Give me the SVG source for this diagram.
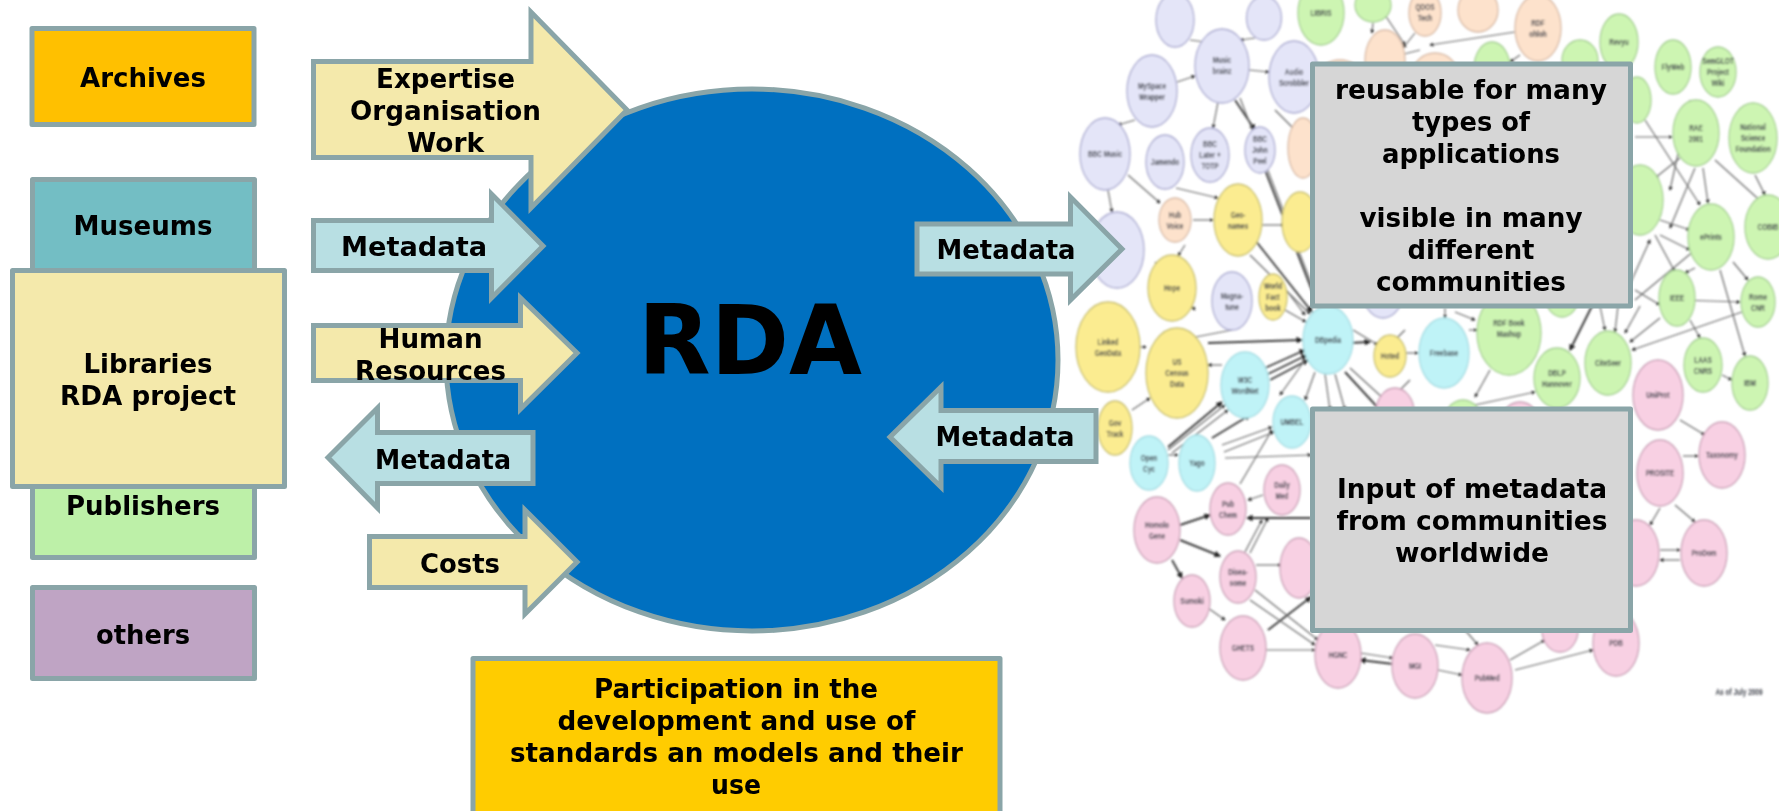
<svg xmlns="http://www.w3.org/2000/svg" width="1779" height="811" viewBox="0 0 1779 811">
<style>
.box,.arrow,#rda-circle{stroke:#8aa5a8;stroke-width:5;stroke-linejoin:miter}
.box{stroke-linejoin:round}
.t{font-family:"DejaVu Sans","Liberation Sans",sans-serif;font-weight:700;font-size:26px;fill:#000;text-anchor:middle}
.y{fill:#f4e9ab}.b{fill:#b8dfe3}.g{fill:#d6d6d6}
.graph ellipse{stroke-width:1.3}
.L ellipse{fill:#e4e5f8;stroke:#aaaad0}
.Y ellipse{fill:#fbec90;stroke:#c8bf72}
.C ellipse{fill:#bff3f7;stroke:#a5dce2}
.P ellipse{fill:#f8d0e3;stroke:#c9a0b6}
.G ellipse{fill:#cdf5b2;stroke:#a6cf94}
.O ellipse{fill:#fde2cc;stroke:#d8baa6}
.l{font-family:"Liberation Sans",Arial,sans-serif;font-size:9px;font-weight:700;fill:#3c3f48;text-anchor:middle;transform:scaleX(.72)}
#edges line{stroke:#6a6a6a;stroke-width:1.2;marker-end:url(#ah)}
#edges line.k{stroke:#3a3a3a;stroke-width:1.9}
</style>
<defs>
<marker id="ah" viewBox="0 0 6 6" refX="5" refY="3" markerWidth="3.5" markerHeight="3.5" orient="auto"><path d="M0 0L6 3L0 6z" fill="#222"/></marker>
<filter id="soft" filterUnits="userSpaceOnUse" x="1060" y="0" width="719" height="740"><feGaussianBlur stdDeviation="0.85"/></filter>
</defs>
<rect width="1779" height="811" fill="#fff"/>

<g class="graph" filter="url(#soft)">
<g id="edges">
<line x1="1177" y1="82" x2="1195" y2="76"/><line x1="1249" y1="70" x2="1269" y2="72"/><line x1="1190" y1="40" x2="1205" y2="42"/><line x1="1255" y1="38" x2="1240" y2="40"/>
<line class="k" x1="1235" y1="100" x2="1255" y2="130"/><line x1="1218" y1="102" x2="1213" y2="128"/><line x1="1240" y1="98" x2="1320" y2="306"/><line x1="1275" y1="110" x2="1305" y2="140"/>
<line x1="1135" y1="120" x2="1118" y2="125"/><line x1="1108" y1="190" x2="1112" y2="212"/><line x1="1128" y1="175" x2="1160" y2="203"/><line x1="1176" y1="188" x2="1218" y2="198"/><line x1="1193" y1="220" x2="1213" y2="220"/>
<line class="k" x1="1265" y1="170" x2="1318" y2="306"/><line x1="1250" y1="255" x2="1310" y2="314"/><line class="k" x1="1255" y1="240" x2="1312" y2="312"/><line x1="1262" y1="225" x2="1284" y2="225"/><line x1="1285" y1="310" x2="1306" y2="322"/><line x1="1155" y1="262" x2="1195" y2="310"/>
<line x1="1275" y1="275" x2="1305" y2="315"/><line x1="1185" y1="245" x2="1178" y2="256"/><line x1="1232" y1="330" x2="1180" y2="340"/>
<line x1="1140" y1="347" x2="1146" y2="347"/><line class="k" x1="1208" y1="343" x2="1302" y2="340"/><line x1="1132" y1="410" x2="1150" y2="398"/><line x1="1222" y1="365" x2="1208" y2="365"/>
<line class="k" x1="1265" y1="368" x2="1305" y2="350"/><line class="k" x1="1268" y1="374" x2="1307" y2="355"/><line class="k" x1="1270" y1="380" x2="1308" y2="360"/>
<line class="k" x1="1212" y1="438" x2="1250" y2="415"/><line x1="1168" y1="450" x2="1225" y2="405"/><line x1="1172" y1="453" x2="1228" y2="410"/><line class="k" x1="1168" y1="447" x2="1222" y2="402"/>
<line x1="1222" y1="445" x2="1272" y2="427"/><line x1="1224" y1="452" x2="1274" y2="432"/><line x1="1225" y1="458" x2="1311" y2="455"/><line x1="1168" y1="455" x2="1178" y2="455"/><line x1="1240" y1="484" x2="1272" y2="430"/>
<line x1="1263" y1="495" x2="1248" y2="500"/><line class="k" x1="1180" y1="525" x2="1210" y2="515"/><line class="k" x1="1311" y1="518" x2="1247" y2="518"/><line class="k" x1="1180" y1="540" x2="1220" y2="556"/><line class="k" x1="1172" y1="560" x2="1182" y2="578"/>
<line x1="1245" y1="552" x2="1262" y2="520"/><line x1="1250" y1="553" x2="1268" y2="518"/><line x1="1256" y1="565" x2="1281" y2="565"/><line x1="1208" y1="608" x2="1225" y2="620"/><line class="k" x1="1268" y1="630" x2="1311" y2="597"/>
<line x1="1266" y1="650" x2="1315" y2="650"/><line x1="1255" y1="590" x2="1318" y2="640"/><line x1="1250" y1="600" x2="1315" y2="645"/><line x1="1360" y1="653" x2="1393" y2="658"/><line class="k" x1="1393" y1="664" x2="1360" y2="660"/>
<line x1="1438" y1="670" x2="1462" y2="675"/><line x1="1515" y1="670" x2="1593" y2="650"/><line x1="1435" y1="645" x2="1470" y2="650"/><line x1="1510" y1="660" x2="1545" y2="640"/><line x1="1465" y1="630" x2="1478" y2="645"/>
<line class="k" x1="1303" y1="345" x2="1370" y2="342"/><line x1="1353" y1="330" x2="1378" y2="345"/><line x1="1406" y1="353" x2="1418" y2="353"/><line x1="1350" y1="368" x2="1385" y2="400"/><line class="k" x1="1345" y1="372" x2="1380" y2="410"/><line x1="1335" y1="374" x2="1345" y2="410"/><line x1="1325" y1="374" x2="1330" y2="410"/><line x1="1315" y1="372" x2="1305" y2="400"/><line x1="1305" y1="360" x2="1280" y2="395"/>
<line x1="1445" y1="308" x2="1445" y2="318"/><line x1="1455" y1="312" x2="1475" y2="320"/><line x1="1469" y1="330" x2="1477" y2="330"/><line x1="1490" y1="370" x2="1475" y2="397"/><line x1="1475" y1="405" x2="1535" y2="392"/><line x1="1405" y1="330" x2="1375" y2="360"/><line x1="1410" y1="380" x2="1385" y2="405"/>
<line class="k" x1="1592" y1="306" x2="1570" y2="350"/><line x1="1600" y1="306" x2="1605" y2="330"/><line x1="1618" y1="306" x2="1615" y2="332"/><line x1="1640" y1="306" x2="1625" y2="333"/><line x1="1660" y1="318" x2="1630" y2="342"/><line x1="1742" y1="312" x2="1632" y2="350"/>
<line x1="1680" y1="158" x2="1655" y2="178"/><line x1="1635" y1="137" x2="1672" y2="137"/><line x1="1695" y1="168" x2="1670" y2="228"/><line x1="1703" y1="168" x2="1708" y2="203"/><line x1="1715" y1="160" x2="1765" y2="205"/><line x1="1755" y1="175" x2="1765" y2="195"/><line x1="1645" y1="120" x2="1700" y2="205"/>
<line x1="1733" y1="262" x2="1748" y2="280"/><line x1="1695" y1="268" x2="1685" y2="273"/><line x1="1660" y1="235" x2="1690" y2="250"/><line x1="1660" y1="220" x2="1690" y2="230"/><line x1="1655" y1="235" x2="1675" y2="272"/><line x1="1690" y1="100" x2="1670" y2="190"/>
<line x1="1635" y1="300" x2="1695" y2="250"/><line x1="1620" y1="306" x2="1650" y2="240"/><line x1="1635" y1="290" x2="1660" y2="305"/><line x1="1680" y1="300" x2="1740" y2="302"/>
<line x1="1690" y1="320" x2="1700" y2="338"/><line x1="1720" y1="270" x2="1745" y2="356"/><line x1="1722" y1="375" x2="1732" y2="380"/><line x1="1680" y1="420" x2="1705" y2="435"/><line x1="1683" y1="456" x2="1698" y2="456"/><line x1="1675" y1="505" x2="1695" y2="522"/>
<line x1="1660" y1="508" x2="1650" y2="525"/><line x1="1660" y1="550" x2="1680" y2="550"/><line x1="1680" y1="560" x2="1660" y2="560"/><line x1="1665" y1="445" x2="1640" y2="470"/>
<line x1="1515" y1="32" x2="1430" y2="45"/><line x1="1415" y1="33" x2="1403" y2="48"/><line x1="1373" y1="23" x2="1372" y2="33"/><line x1="1385" y1="15" x2="1405" y2="45"/><line x1="1420" y1="50" x2="1400" y2="55"/><line x1="1520" y1="55" x2="1510" y2="62"/>
</g>
<g id="n1" class="L"><ellipse cx="1175" cy="20" rx="19" ry="27"/></g>
<g id="n2" class="L"><ellipse cx="1264" cy="18" rx="17.5" ry="22"/></g>
<g id="n3" class="L" transform="translate(1222,66)"><ellipse rx="27" ry="37"/><text class="l" y="-3">Music<tspan x="0" dy="11">brainz</tspan></text></g>
<g id="n4" class="L" transform="translate(1152,91)"><ellipse rx="25" ry="36"/><text class="l" y="-2">MySpace<tspan x="0" dy="11">Wrapper</tspan></text></g>
<g id="n5" class="L" transform="translate(1294,77)"><ellipse rx="25" ry="36"/><text class="l" y="-2">Audio<tspan x="0" dy="11">Scrobbler</tspan></text></g>
<g id="n6" class="L" transform="translate(1105,154)"><ellipse rx="25" ry="36"/><text class="l" y="3">BBC Music</text></g>
<g id="n7" class="L" transform="translate(1165,162)"><ellipse rx="19" ry="27"/><text class="l" y="3">Jamendo</text></g>
<g id="n8" class="L" transform="translate(1210,155)"><ellipse rx="19" ry="27"/><text class="l" y="-8">BBC<tspan x="0" dy="11">Later +</tspan><tspan x="0" dy="11">TOTP</tspan></text></g>
<g id="n9" class="L" transform="translate(1260,150)"><ellipse rx="15" ry="23"/><text class="l" y="-8">BBC<tspan x="0" dy="11">John</tspan><tspan x="0" dy="11">Peel</tspan></text></g>
<g id="n10" class="L"><ellipse cx="1117" cy="250" rx="27" ry="38"/></g>
<g id="n11" class="L" transform="translate(1232,301)"><ellipse rx="20" ry="29"/><text class="l" y="-2">Magna-<tspan x="0" dy="11">tune</tspan></text></g>
<g id="n12" class="L"><ellipse cx="1383" cy="285" rx="22" ry="33"/></g>
<g id="n13" class="O" transform="translate(1175,220)"><ellipse rx="16" ry="22"/><text class="l" y="-2">Hub<tspan x="0" dy="11">Voice</tspan></text></g>
<g id="n14" class="Y" transform="translate(1238,220)"><ellipse rx="24" ry="36"/><text class="l" y="-2">Geo-<tspan x="0" dy="11">names</tspan></text></g>
<g id="n15" class="Y" transform="translate(1172,288)"><ellipse rx="24" ry="33"/><text class="l" y="3">Hope</text></g>
<g id="n16" class="Y" transform="translate(1273,297)"><ellipse rx="14" ry="23"/><text class="l" y="-8">World<tspan x="0" dy="11">Fact</tspan><tspan x="0" dy="11">book</tspan></text></g>
<g id="n17" class="Y" transform="translate(1108,347)"><ellipse rx="32" ry="45"/><text class="l" y="-2">Linked<tspan x="0" dy="11">GeoData</tspan></text></g>
<g id="n18" class="Y" transform="translate(1177,373)"><ellipse rx="31" ry="45"/><text class="l" y="-8">US<tspan x="0" dy="11">Census</tspan><tspan x="0" dy="11">Data</tspan></text></g>
<g id="n19" class="Y" transform="translate(1115,428)"><ellipse rx="17" ry="27"/><text class="l" y="-2">Gov<tspan x="0" dy="11">Track</tspan></text></g>
<g id="n20" class="Y"><ellipse cx="1300" cy="222" rx="18" ry="30"/></g>
<g id="n21" class="Y" transform="translate(1390,356)"><ellipse rx="16" ry="21"/><text class="l" y="3">Hoted</text></g>
<g id="n22" class="C" transform="translate(1328,340)"><ellipse rx="25" ry="34"/><text class="l" y="3">DBpedia</text></g>
<g id="n23" class="C" transform="translate(1444,353)"><ellipse rx="25" ry="35"/><text class="l" y="3">Freebase</text></g>
<g id="n24" class="C" transform="translate(1245,385)"><ellipse rx="24" ry="33"/><text class="l" y="-2">W3C<tspan x="0" dy="11">WordNet</tspan></text></g>
<g id="n25" class="C" transform="translate(1292,422)"><ellipse rx="19" ry="26"/><text class="l" y="3">UMBEL</text></g>
<g id="n26" class="C" transform="translate(1149,463)"><ellipse rx="19" ry="27"/><text class="l" y="-2">Open<tspan x="0" dy="11">Cyc</tspan></text></g>
<g id="n27" class="C" transform="translate(1197,463)"><ellipse rx="18" ry="28"/><text class="l" y="3">Yago</text></g>
<g id="n28" class="P" transform="translate(1282,490)"><ellipse rx="18" ry="25"/><text class="l" y="-2">Daily<tspan x="0" dy="11">Med</tspan></text></g>
<g id="n29" class="P" transform="translate(1228,509)"><ellipse rx="18" ry="26"/><text class="l" y="-2">Pub<tspan x="0" dy="11">Chem</tspan></text></g>
<g id="n30" class="P" transform="translate(1157,530)"><ellipse rx="23" ry="33"/><text class="l" y="-2">Homolo<tspan x="0" dy="11">Gene</tspan></text></g>
<g id="n31" class="P" transform="translate(1238,577)"><ellipse rx="18" ry="26"/><text class="l" y="-2">Disea-<tspan x="0" dy="11">some</tspan></text></g>
<g id="n32" class="P"><ellipse cx="1299" cy="568" rx="19" ry="30"/></g>
<g id="n33" class="P" transform="translate(1192,601)"><ellipse rx="18" ry="26"/><text class="l" y="3">Sumoki</text></g>
<g id="n34" class="P" transform="translate(1243,648)"><ellipse rx="23" ry="32"/><text class="l" y="3">GHETS</text></g>
<g id="n35" class="P" transform="translate(1338,655)"><ellipse rx="23" ry="33"/><text class="l" y="3">HGNC</text></g>
<g id="n36" class="P" transform="translate(1415,666)"><ellipse rx="23" ry="32"/><text class="l" y="3">MGI</text></g>
<g id="n37" class="P" transform="translate(1487,678)"><ellipse rx="25" ry="35"/><text class="l" y="3">PubMed</text></g>
<g id="n38" class="P" transform="translate(1616,643)"><ellipse rx="23" ry="33"/><text class="l" y="3">PDB</text></g>
<g id="n39" class="P"><ellipse cx="1560" cy="630" rx="18" ry="22"/></g>
<g id="n40" class="P" transform="translate(1704,553)"><ellipse rx="23" ry="33"/><text class="l" y="3">ProDom</text></g>
<g id="n41" class="P"><ellipse cx="1636" cy="553" rx="23" ry="33"/></g>
<g id="n42" class="P" transform="translate(1660,473)"><ellipse rx="23" ry="33"/><text class="l" y="3">PROSITE</text></g>
<g id="n43" class="P" transform="translate(1722,455)"><ellipse rx="23" ry="33"/><text class="l" y="3">Taxonomy</text></g>
<g id="n44" class="P" transform="translate(1658,395)"><ellipse rx="25" ry="35"/><text class="l" y="3">UniProt</text></g>
<g id="n45" class="P"><ellipse cx="1395" cy="412" rx="19" ry="24"/></g>
<g id="n46" class="P"><ellipse cx="1520" cy="425" rx="20" ry="23"/></g>
<g id="n47" class="G" transform="translate(1321,13)"><ellipse rx="23" ry="32"/><text class="l" y="3">LIBRIS</text></g>
<g id="n48" class="G"><ellipse cx="1373" cy="5" rx="18" ry="17"/></g>
<g id="n49" class="O"><ellipse cx="1385" cy="60" rx="20" ry="30"/></g>
<g id="n50" class="O" transform="translate(1425,13)"><ellipse rx="16" ry="23"/><text class="l" y="-3">QDOS<tspan x="0" dy="11">Tech</tspan></text></g>
<g id="n51" class="O"><ellipse cx="1478" cy="10" rx="20" ry="22"/></g>
<g id="n52" class="O" transform="translate(1538,28)"><ellipse rx="23" ry="33"/><text class="l" y="-2">RDF<tspan x="0" dy="11">ohloh</tspan></text></g>
<g id="n53" class="O"><ellipse cx="1435" cy="75" rx="23" ry="22"/></g>
<g id="n54" class="G"><ellipse cx="1492" cy="68" rx="18" ry="26"/></g>
<g id="n55" class="G"><ellipse cx="1580" cy="60" rx="18" ry="20"/></g>
<g id="n56" class="G" transform="translate(1619,42)"><ellipse rx="19" ry="28"/><text class="l" y="3">Revyu</text></g>
<g id="n57" class="G" transform="translate(1673,67)"><ellipse rx="18" ry="27"/><text class="l" y="3">FlyWeb</text></g>
<g id="n58" class="G" transform="translate(1718,72)"><ellipse rx="18" ry="25"/><text class="l" y="-8">SemGLOT<tspan x="0" dy="11">Project</tspan><tspan x="0" dy="11">Wiki</tspan></text></g>
<g id="n59" class="G" transform="translate(1696,133)"><ellipse rx="23" ry="33"/><text class="l" y="-2">RAE<tspan x="0" dy="11">2001</tspan></text></g>
<g id="n60" class="G" transform="translate(1753,138)"><ellipse rx="24" ry="35"/><text class="l" y="-8">National<tspan x="0" dy="11">Science</tspan><tspan x="0" dy="11">Foundation</tspan></text></g>
<g id="n61" class="G" transform="translate(1768,227)"><ellipse rx="23" ry="32"/><text class="l" y="3">COBIB</text></g>
<g id="n62" class="G" transform="translate(1711,237)"><ellipse rx="23" ry="33"/><text class="l" y="3">ePrints</text></g>
<g id="n63" class="G"><ellipse cx="1640" cy="200" rx="23" ry="35"/></g>
<g id="n64" class="G"><ellipse cx="1637" cy="100" rx="14" ry="23"/></g>
<g id="n65" class="G" transform="translate(1677,298)"><ellipse rx="18" ry="28"/><text class="l" y="3">IEEE</text></g>
<g id="n66" class="G" transform="translate(1758,302)"><ellipse rx="17" ry="25"/><text class="l" y="-2">Rome<tspan x="0" dy="11">CNR</tspan></text></g>
<g id="n67" class="G" transform="translate(1703,365)"><ellipse rx="19" ry="27"/><text class="l" y="-2">LAAS<tspan x="0" dy="11">CNRS</tspan></text></g>
<g id="n68" class="G" transform="translate(1750,383)"><ellipse rx="18" ry="27"/><text class="l" y="3">IBM</text></g>
<g id="n69" class="G" transform="translate(1608,363)"><ellipse rx="23" ry="32"/><text class="l" y="3">CiteSeer</text></g>
<g id="n70" class="G" transform="translate(1557,378)"><ellipse rx="23" ry="30"/><text class="l" y="-2">DBLP<tspan x="0" dy="11">Hannover</tspan></text></g>
<g id="n71" class="G" transform="translate(1509,333)"><ellipse rx="32" ry="42"/><text class="l" y="-7">RDF Book<tspan x="0" dy="11">Mashup</tspan></text></g>
<g id="n72" class="G"><ellipse cx="1463" cy="425" rx="20" ry="25"/></g>
<g id="n73" class="G"><ellipse cx="1562" cy="298" rx="16" ry="19"/></g>
<g id="n74" class="O"><ellipse cx="1303" cy="148" rx="15" ry="30"/></g>
<g id="n75" class="O"><ellipse cx="1340" cy="75" rx="20" ry="15"/></g>
<g id="note" transform="translate(1739,695)"><text class="l" font-weight="400">As of July 2009</text></g>
</g>

<g id="node-rda"><ellipse id="rda-circle" cx="752" cy="360" rx="306" ry="271" fill="#0070c0"/>
<text x="750" y="374" font-family="DejaVu Sans,sans-serif" font-weight="700" font-size="96" text-anchor="middle" fill="#000" textLength="224" lengthAdjust="spacingAndGlyphs">RDA</text></g>

<g id="node-museums"><rect class="box" x="32.5" y="179.5" width="222" height="110" fill="#73bec4"/><text class="t" x="143" y="235" textLength="139" lengthAdjust="spacingAndGlyphs">Museums</text></g>
<g id="node-publishers"><rect class="box" x="32.5" y="470" width="222" height="87.5" fill="#bdf0a8"/><text class="t" x="143" y="515" textLength="154" lengthAdjust="spacingAndGlyphs">Publishers</text></g>
<g id="node-libraries"><rect class="box y" x="12.5" y="270.5" width="272" height="216"/><text class="t" x="148" y="373" textLength="129" lengthAdjust="spacingAndGlyphs">Libraries</text><text class="t" x="148" y="405" textLength="176" lengthAdjust="spacingAndGlyphs">RDA project</text></g>
<g id="node-archives"><rect class="box" x="32" y="28.5" width="222" height="96" fill="#ffc000"/><text class="t" x="143" y="87" textLength="126" lengthAdjust="spacingAndGlyphs">Archives</text></g>
<g id="node-others"><rect class="box" x="32.5" y="587.5" width="222" height="91" fill="#bfa4c4"/><text class="t" x="143" y="644" textLength="94" lengthAdjust="spacingAndGlyphs">others</text></g>

<g id="arrow-expertise"><polygon class="arrow y" points="313.5,61.5 531,61.5 531,12 627,110 531,208 531,157.5 313.5,157.5"/><text class="t" x="445.5" y="88" textLength="139" lengthAdjust="spacingAndGlyphs">Expertise</text><text class="t" x="445.5" y="120" textLength="191" lengthAdjust="spacingAndGlyphs">Organisation</text><text class="t" x="445.5" y="152" textLength="77" lengthAdjust="spacingAndGlyphs">Work</text></g>
<g id="arrow-metadata-in"><polygon class="arrow b" points="313.5,220.5 491.5,220.5 491.5,194 543,246 491.5,298 491.5,270.5 313.5,270.5"/><text class="t" x="414" y="256" textLength="146" lengthAdjust="spacingAndGlyphs">Metadata</text></g>
<g id="arrow-human"><polygon class="arrow y" points="313.5,325.5 520.5,325.5 520.5,298 577,353 520.5,409 520.5,380.5 313.5,380.5"/><text class="t" x="430.5" y="348" textLength="104" lengthAdjust="spacingAndGlyphs">Human</text><text class="t" x="430.5" y="380" textLength="151" lengthAdjust="spacingAndGlyphs">Resources</text></g>
<g id="arrow-metadata-out"><polygon class="arrow b" points="533,432.5 377.5,432.5 377.5,408 328,457.5 377.5,508 377.5,483.5 533,483.5"/><text class="t" x="443" y="469" textLength="136" lengthAdjust="spacingAndGlyphs">Metadata</text></g>
<g id="arrow-costs"><polygon class="arrow y" points="369.5,536.5 525,536.5 525,510 577,562 525,614 525,587.5 369.5,587.5"/><text class="t" x="460" y="573" textLength="80" lengthAdjust="spacingAndGlyphs">Costs</text></g>
<g id="arrow-metadata-right"><polygon class="arrow b" points="917,224 1070.5,224 1070.5,197 1122,249 1070.5,300 1070.5,274 917,274"/><text class="t" x="1006" y="259" textLength="139" lengthAdjust="spacingAndGlyphs">Metadata</text></g>
<g id="arrow-metadata-left"><polygon class="arrow b" points="1096,410.5 941,410.5 941,387 890,437 941,487 941,461.5 1096,461.5"/><text class="t" x="1005" y="446" textLength="139" lengthAdjust="spacingAndGlyphs">Metadata</text></g>

<g id="node-reusable"><rect class="box g" x="1312.5" y="64" width="318" height="242"/>
<text class="t" x="1471" y="99" textLength="272" lengthAdjust="spacingAndGlyphs">reusable for many</text><text class="t" x="1471" y="131" textLength="118" lengthAdjust="spacingAndGlyphs">types of</text><text class="t" x="1471" y="163" textLength="178" lengthAdjust="spacingAndGlyphs">applications</text><text class="t" x="1471" y="227" textLength="223" lengthAdjust="spacingAndGlyphs">visible in many</text><text class="t" x="1471" y="259" textLength="127" lengthAdjust="spacingAndGlyphs">different</text><text class="t" x="1471" y="291" textLength="190" lengthAdjust="spacingAndGlyphs">communities</text></g>
<g id="node-input"><rect class="box g" x="1312.5" y="409" width="318" height="221.5"/>
<text class="t" x="1472" y="498" textLength="270" lengthAdjust="spacingAndGlyphs">Input of metadata</text><text class="t" x="1472" y="530" textLength="271" lengthAdjust="spacingAndGlyphs">from communities</text><text class="t" x="1472" y="562" textLength="154" lengthAdjust="spacingAndGlyphs">worldwide</text></g>
<g id="node-participation"><rect class="box" x="473" y="658.5" width="527" height="170" fill="#ffcc00"/>
<text class="t" x="736" y="698" textLength="284" lengthAdjust="spacingAndGlyphs">Participation in the</text><text class="t" x="736.5" y="730" textLength="358" lengthAdjust="spacingAndGlyphs">development and use of</text><text class="t" x="736.5" y="762" textLength="453" lengthAdjust="spacingAndGlyphs">standards an models and their</text><text class="t" x="736" y="794" textLength="50" lengthAdjust="spacingAndGlyphs">use</text></g>
</svg>
